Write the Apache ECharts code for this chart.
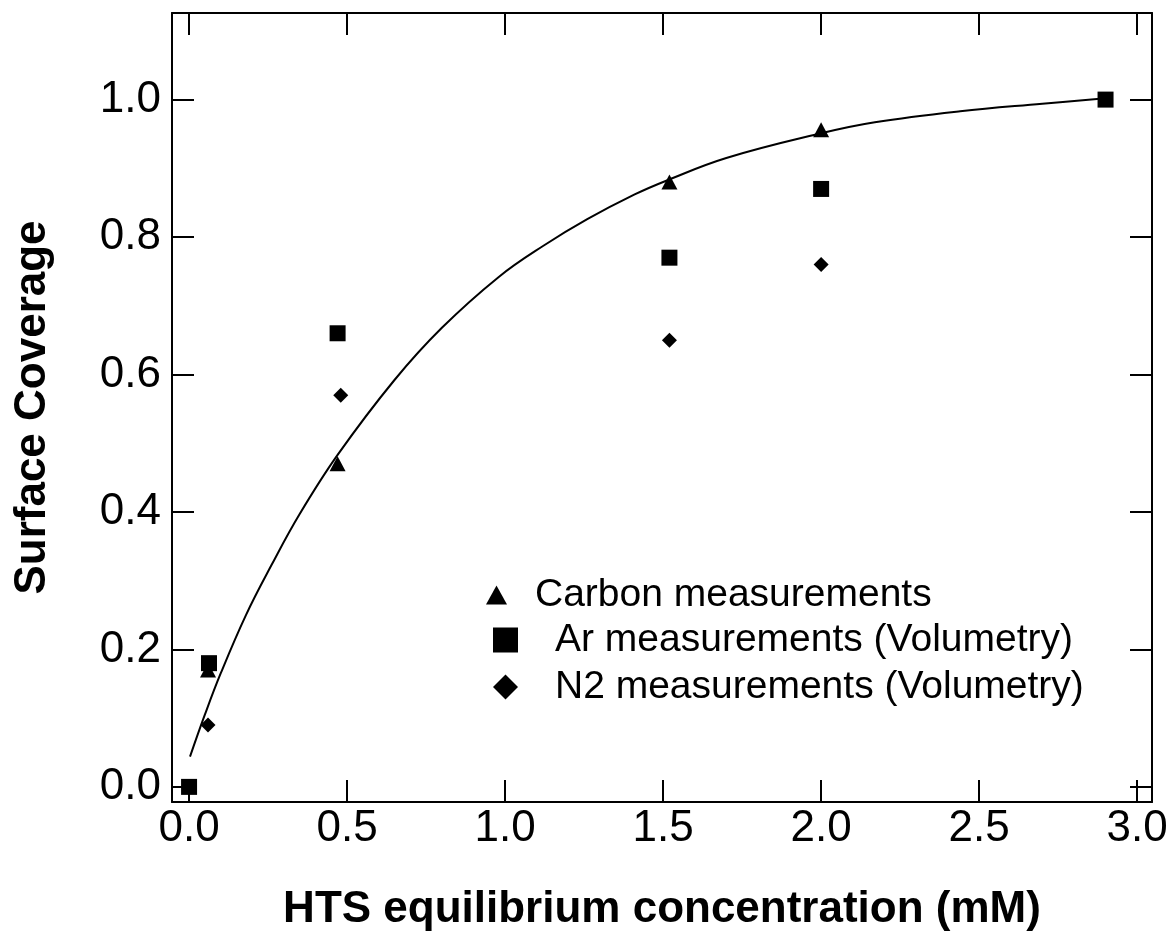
<!DOCTYPE html>
<html>
<head>
<meta charset="utf-8">
<script src="https://cdn.jsdelivr.net/npm/echarts@6/dist/echarts.min.js"></script>
<style>
  html, body { margin: 0; padding: 0; background: #fff; }
  #chart { width: 1169px; height: 945px; }
</style>
</head>
<body>
<div id="chart"></div>
<script>
// Surface coverage vs. HTS equilibrium concentration
const carbonX = [0.06, 0.47, 1.52, 2.00];
const carbonY = [0.17, 0.47, 0.88, 0.956];

const arX = [0.00, 0.063, 0.47, 1.52, 2.00, 2.90];
const arY = [0.00, 0.18, 0.66, 0.77, 0.87, 1.00];

const n2X = [0.06, 0.48, 1.52, 2.00];
const n2Y = [0.09, 0.57, 0.65, 0.76];

// fitted coverage curve
const fitX = [0.003, 0.05, 0.10, 0.18, 0.26, 0.35, 0.47, 0.65, 0.80, 0.98, 1.12, 1.26, 1.41, 1.51, 1.70, 2.00, 2.17, 2.44, 2.70, 2.90];
const fitY = [0.044, 0.105, 0.165, 0.250, 0.322, 0.397, 0.483, 0.592, 0.668, 0.742, 0.787, 0.826, 0.862, 0.882, 0.915, 0.951, 0.967, 0.983, 0.994, 1.002];

const xTicks = [0.0, 0.5, 1.0, 1.5, 2.0, 2.5, 3.0];
const yTicks = [0.0, 0.2, 0.4, 0.6, 0.8, 1.0];

const seriesNames = ['Carbon measurements', 'Ar measurements (Volumetry)', 'N2 measurements (Volumetry)'];

const zip = (xs, ys) => xs.map((x, i) => [x, ys[i]]);

const FONT = '"Liberation Sans", Arial, Helvetica, sans-serif';
const INK = '#000';

const xRange = [-0.054, 3.047];
const yRange = [-0.022, 1.126];

const tickStyle = { show: true, inside: true, length: 22, lineStyle: { color: INK, width: 2 } };
const lineStyle = { show: true, onZero: false, lineStyle: { color: INK, width: 2 } };
const markStyle = { color: INK, opacity: 1 };
const legendText = { color: INK, fontFamily: FONT, fontSize: 39, lineHeight: 40 };

const chart = echarts.init(document.getElementById('chart'), null, { renderer: 'canvas' });

const option = {
  backgroundColor: '#fff',
  animation: false,
  grid: { left: 172, right: 17, top: 13, bottom: 143, containLabel: false, outerBoundsMode: 'none' },
  xAxis: [
    {
      type: 'value', position: 'bottom', min: xRange[0], max: xRange[1],
      axisLine: lineStyle,
      axisTick: Object.assign({}, tickStyle, { customValues: xTicks }),
      axisLabel: {
        customValues: xTicks, margin: 5, color: INK, fontFamily: FONT, fontSize: 44,
        formatter: v => v.toFixed(1)
      },
      splitLine: { show: false },
      name: 'HTS equilibrium concentration (mM)',
      nameLocation: 'middle', nameGap: 86,
      nameTextStyle: { color: INK, fontFamily: FONT, fontSize: 44, fontWeight: 'bold' }
    },
    {
      type: 'value', position: 'top', min: xRange[0], max: xRange[1],
      axisLine: lineStyle,
      axisTick: Object.assign({}, tickStyle, { customValues: xTicks }),
      axisLabel: { show: false },
      splitLine: { show: false }
    }
  ],
  yAxis: [
    {
      type: 'value', position: 'left', min: yRange[0], max: yRange[1],
      axisLine: lineStyle,
      axisTick: Object.assign({}, tickStyle, { customValues: yTicks }),
      axisLabel: {
        customValues: yTicks, margin: 11, color: INK, fontFamily: FONT, fontSize: 44,
        formatter: v => v.toFixed(1)
      },
      splitLine: { show: false },
      name: 'Surface Coverage',
      nameLocation: 'middle', nameGap: 117, nameRotate: 90,
      nameTextStyle: { color: INK, fontFamily: FONT, fontSize: 44, fontWeight: 'bold' }
    },
    {
      type: 'value', position: 'right', min: yRange[0], max: yRange[1],
      axisLine: lineStyle,
      axisTick: Object.assign({}, tickStyle, { customValues: yTicks }),
      axisLabel: { show: false },
      splitLine: { show: false }
    }
  ],
  legend: [
    {
      data: [{ name: seriesNames[0], icon: 'triangle' }],
      left: 481, top: 570, itemWidth: 21, itemHeight: 19,
      itemStyle: markStyle,
      textStyle: Object.assign({}, legendText, { padding: [0, 0, 0, 23] })
    },
    {
      data: [{ name: seriesNames[1], icon: 'rect' }],
      left: 488, top: 615, itemWidth: 25, itemHeight: 25,
      itemStyle: markStyle,
      textStyle: Object.assign({}, legendText, { padding: [0, 0, 0, 32] })
    },
    {
      data: [{ name: seriesNames[2], icon: 'diamond' }],
      left: 488, top: 662, itemWidth: 25, itemHeight: 25,
      itemStyle: markStyle,
      textStyle: Object.assign({}, legendText, { padding: [0, 0, 0, 32] })
    }
  ],
  series: [
    {
      name: 'fit', type: 'line', data: zip(fitX, fitY), smooth: 0.4,
      showSymbol: false, lineStyle: { color: INK, width: 2 }, z: 1
    },
    {
      name: seriesNames[0], type: 'scatter', data: zip(carbonX, carbonY),
      symbol: 'triangle', symbolSize: [16, 15], itemStyle: markStyle, z: 3
    },
    {
      name: seriesNames[1], type: 'scatter', data: zip(arX, arY),
      symbol: 'rect', symbolSize: 16, itemStyle: markStyle, z: 2
    },
    {
      name: seriesNames[2], type: 'scatter', data: zip(n2X, n2Y),
      symbol: 'diamond', symbolSize: 15, itemStyle: markStyle, z: 2
    }
  ]
};

chart.setOption(option);
</script>
</body>
</html>
